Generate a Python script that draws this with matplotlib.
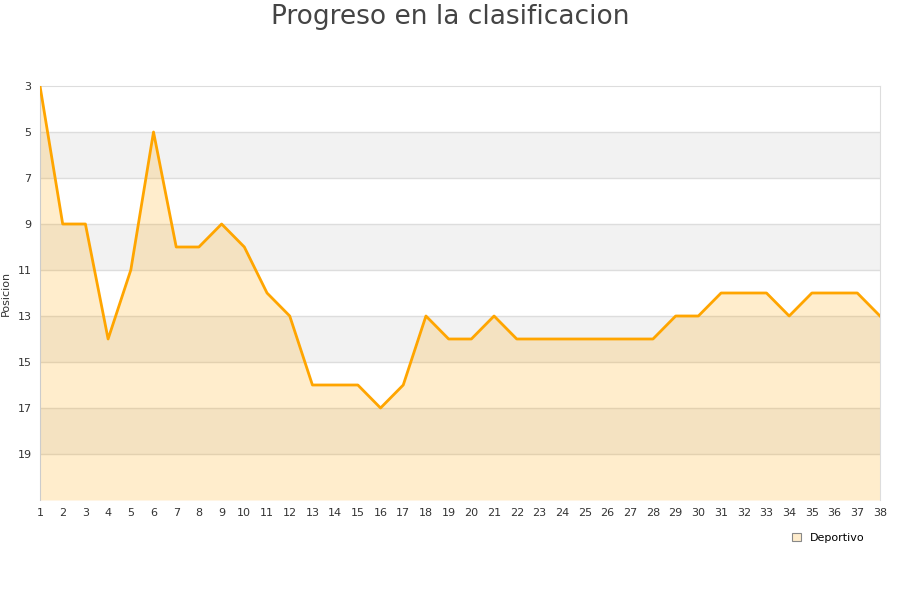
import numpy as np
from matplotlib import pyplot as plt
from matplotlib.patches import Patch

jornadas = list(range(1, 39))
posicion = [3, 9, 9, 14, 11, 5, 10, 10, 9, 10,
            12, 13, 16, 16, 16, 17, 16, 13, 14, 14,
            13, 14, 14, 14, 14, 14, 14, 14, 13, 13,
            12, 12, 12, 13, 12, 12, 12, 13]
y_ticks = [3, 5, 7, 9, 11, 13, 15, 17, 19]
team = "Deportivo"

fig = plt.figure(figsize=(9, 6), dpi=100)
ax = fig.add_axes([40 / 900, 100 / 600, 840 / 900, 414 / 600])

# alternating bands
for lo in range(5, 21, 4):
    ax.axhspan(lo, lo + 2, color="#f2f2f2", zorder=0, lw=0)
for y in y_ticks[1:]:
    ax.axhline(y, color="#dddddd", lw=1, zorder=1)

ax.fill_between(jornadas, posicion, 21, color="orange", alpha=0.2, lw=0, zorder=2)
ax.plot(jornadas, posicion, color="#ffa500", lw=2, zorder=3)

ax.set_xlim(1, 38)
ax.set_ylim(21, 3)
ax.set_xticks(jornadas)
ax.set_yticks(y_ticks)
ax.tick_params(length=0, labelsize=8, colors="#333333", pad=6)
for side in ["left", "right", "top"]:
    ax.spines[side].set_color("#dddddd")
ax.spines["left"].set_color("#cccccc")
ax.spines["bottom"].set_visible(False)
ax.set_ylabel("Posicion", fontsize=8, color="#333333")
ax.yaxis.set_label_coords(-29 / 840, 0.5)

fig.suptitle("Progreso en la clasificacion", fontsize=19, color="#444444", y=0.993)

fig.legend(handles=[Patch(facecolor="#feeccc", edgecolor="#888888", lw=0.8)],
           labels=[team], loc="center", bbox_to_anchor=(828 / 900, 1 - 538 / 600),
           frameon=False, fontsize=8, handlelength=0.8, handleheight=0.8,
           handletextpad=0.8)

fig.savefig("out.png")
